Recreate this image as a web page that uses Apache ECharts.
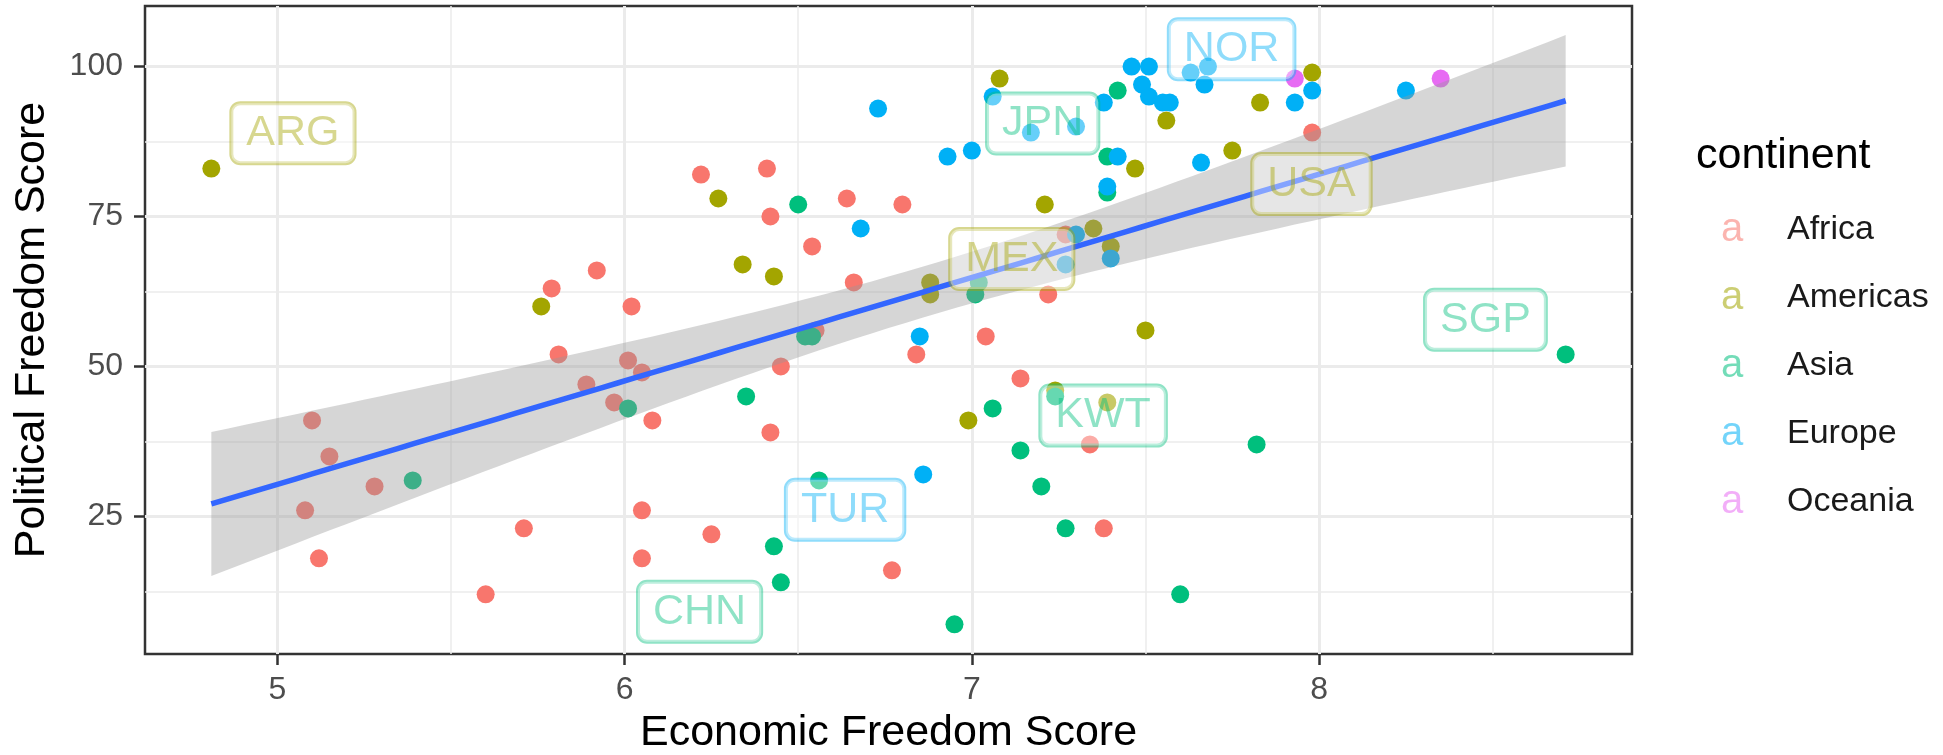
<!DOCTYPE html>
<html>
<head>
<meta charset="utf-8">
<title>Economic vs Political Freedom</title>
<script src="https://cdn.jsdelivr.net/npm/echarts@6/dist/echarts.min.js"></script>
<style>
  html, body { margin: 0; padding: 0; background: #ffffff; }
  #chart { width: 1943px; height: 755px; }
</style>
</head>
<body>
<div id="chart"></div>
<script>
// ---- data -------------------------------------------------------------
const continents = ['Africa', 'Americas', 'Asia', 'Europe', 'Oceania'];
const continentColors = ['#F8766D', '#A3A500', '#00BF7D', '#00B0F6', '#E76BF3'];

// [economic freedom score, political freedom score]
const africa = [
  [6.22, 82], [6.41, 83], [6.64, 78], [6.80, 77], [6.42, 75], [6.54, 70], [6.66, 64],
  [5.92, 66], [5.79, 63], [6.02, 60], [6.84, 52], [7.04, 55], [7.27, 72], [7.22, 62],
  [7.98, 89], [5.10, 41], [5.15, 35], [5.28, 30], [5.08, 26], [5.12, 18], [5.60, 12],
  [5.71, 23], [5.81, 52], [6.01, 51], [6.05, 49], [5.89, 47], [5.97, 44], [6.08, 41],
  [6.42, 39], [6.45, 50], [6.55, 56], [6.05, 26], [6.05, 18], [6.25, 22], [6.77, 16],
  [7.14, 48], [7.34, 37], [7.38, 23]
];
const americas = [
  [4.81, 83], [5.76, 60], [6.27, 78], [6.34, 67], [6.43, 65], [7.08, 98], [7.56, 91],
  [7.83, 94], [7.47, 83], [7.75, 86], [7.21, 77], [7.35, 73], [7.40, 70], [6.88, 64],
  [6.88, 62], [7.50, 56], [7.98, 99], [6.99, 41], [7.24, 46], [7.39, 44]
];
const asia = [
  [6.50, 77], [7.42, 96], [7.39, 85], [7.39, 79], [7.02, 64], [7.01, 62], [5.39, 31],
  [6.01, 43], [6.35, 45], [6.52, 55], [6.54, 55], [6.43, 20], [6.45, 14], [6.56, 31],
  [7.06, 43], [7.14, 36], [7.20, 30], [7.24, 45], [7.27, 23], [6.95, 7], [7.60, 12],
  [7.82, 37], [8.71, 52]
];
const europe = [
  [6.73, 93], [6.68, 73], [6.85, 55], [7.06, 95], [7.17, 89], [7.30, 90], [6.93, 85],
  [7.00, 86], [7.38, 94], [7.46, 100], [7.51, 100], [7.49, 97], [7.51, 95], [7.55, 94],
  [7.57, 94], [7.63, 99], [7.68, 100], [7.67, 97], [7.93, 94], [7.42, 85], [7.66, 84],
  [7.39, 80], [7.30, 72], [7.40, 68], [7.27, 67], [7.98, 96], [8.25, 96], [6.86, 32]
];
const oceania = [[7.93, 98], [8.35, 98]];

// highlighted countries: label anchor positions (data units) and continent
const labelCodes = ['ARG', 'JPN', 'NOR', 'USA', 'MEX', 'SGP', 'KWT', 'TUR', 'CHN'];
const labelX = [5.045, 7.204, 7.748, 7.978, 7.115, 8.479, 7.378, 6.635, 6.216];
const labelY = [88.9, 90.5, 102.9, 80.4, 67.9, 57.8, 41.8, 26.1, 9.1];
const labelContinent = ['Americas', 'Asia', 'Europe', 'Americas', 'Americas', 'Asia', 'Asia', 'Europe', 'Asia'];

// axes
const xRange = [4.619, 8.901];
const yRange = [2.05, 110.1];
const xTicks = [5, 6, 7, 8];
const yTicks = [25, 50, 75, 100];
const xMinorGrid = [5.5, 6.5, 7.5, 8.5];
const yMinorGrid = [12.5, 37.5, 62.5, 87.5];

// ---- linear fit with 95% confidence band -------------------------------
const seriesData = [africa, americas, asia, europe, oceania];
const allPts = [].concat(...seriesData);
const n = allPts.length;
const mx = allPts.reduce((s, p) => s + p[0], 0) / n;
const my = allPts.reduce((s, p) => s + p[1], 0) / n;
let sxx = 0, sxy = 0;
allPts.forEach(p => { sxx += (p[0] - mx) ** 2; sxy += (p[0] - mx) * (p[1] - my); });
const slope = sxy / sxx;
const intercept = my - slope * mx;
let sse = 0;
allPts.forEach(p => { const r = p[1] - (intercept + slope * p[0]); sse += r * r; });
const sigma = Math.sqrt(sse / (n - 2));
const tCrit = 1.982;
const xLo = Math.min(...allPts.map(p => p[0]));
const xHi = Math.max(...allPts.map(p => p[0]));
const fitLine = [];
const band = [];
for (let i = 0; i <= 80; i++) {
  const x = xLo + (xHi - xLo) * i / 80;
  const fit = intercept + slope * x;
  const se = sigma * Math.sqrt(1 / n + (x - mx) ** 2 / sxx);
  fitLine.push([x, fit]);
  band.push([x, fit - tCrit * se, fit + tCrit * se]);
}

// ---- helpers ------------------------------------------------------------
const FONT = '"Liberation Sans", Arial, Helvetica, sans-serif';
function rgba(hex, a) {
  const v = parseInt(hex.slice(1), 16);
  return `rgba(${(v >> 16) & 255},${(v >> 8) & 255},${v & 255},${a})`;
}
const labelAlpha = 0.55;

const gridLines = [];
xTicks.forEach(v => gridLines.push({ xAxis: v, lineStyle: { width: 3 } }));
yTicks.forEach(v => gridLines.push({ yAxis: v, lineStyle: { width: 3 } }));
xMinorGrid.forEach(v => gridLines.push({ xAxis: v, lineStyle: { width: 1.5 } }));
yMinorGrid.forEach(v => gridLines.push({ yAxis: v, lineStyle: { width: 1.5 } }));

const legendRich = { t: { fontSize: 34, lineHeight: 40, color: '#1A1A1A', fontFamily: FONT } };
continents.forEach((c, i) => {
  legendRich['k' + i] = { fontSize: 40, lineHeight: 40, width: 66, color: rgba(continentColors[i], labelAlpha), fontFamily: FONT };
});

// ---- chart --------------------------------------------------------------
const chart = echarts.init(document.getElementById('chart'), null, { renderer: 'canvas' });

const series = [];
// background grid lines
series.push({
  type: 'line', name: 'grid', data: [], silent: true,
  markLine: {
    z: 1, silent: true, symbol: ['none', 'none'], animation: false,
    label: { show: false },
    lineStyle: { color: '#EBEBEB', type: 'solid' },
    emphasis: { disabled: true },
    data: gridLines
  }
});
// points
continents.forEach((c, i) => {
  series.push({
    type: 'scatter', name: c, data: seriesData[i], z: 2,
    symbol: 'circle', symbolSize: 18,
    itemStyle: { color: continentColors[i], opacity: 1 },
    emphasis: { disabled: true }
  });
});
// confidence band
series.push({
  type: 'custom', name: 'band', data: band, z: 3, silent: true,
  encode: { x: 0, y: [1, 2] },
  renderItem(params, api) {
    if (params.dataIndex !== 0) return null;
    const upper = band.map(d => api.coord([d[0], d[2]]));
    const lower = band.map(d => api.coord([d[0], d[1]])).reverse();
    return { type: 'polygon', shape: { points: upper.concat(lower) }, style: { fill: 'rgba(153,153,153,0.4)' } };
  }
});
// fitted line
series.push({
  type: 'line', name: 'fit', data: fitLine, z: 4, silent: true,
  showSymbol: false, symbol: 'none',
  lineStyle: { color: '#3366FF', width: 5.5 },
  emphasis: { disabled: true }
});
// country labels
series.push({
  type: 'scatter', name: 'labels', z: 6, silent: true,
  symbol: 'circle', symbolSize: 1,
  itemStyle: { color: 'rgba(0,0,0,0)' },
  data: labelCodes.map((code, i) => {
    const col = continentColors[continents.indexOf(labelContinent[i])];
    return {
      value: [labelX[i], labelY[i], code],
      label: { color: rgba(col, labelAlpha), borderColor: rgba(col, labelAlpha) }
    };
  }),
  label: {
    show: true, position: 'inside',
    formatter: p => p.value[2],
    fontSize: 43, lineHeight: 44, fontFamily: FONT,
    backgroundColor: 'rgba(255,255,255,0.5)',
    borderWidth: 2, borderRadius: 9,
    padding: [8, 15, 8, 15]
  },
  labelLayout: { hideOverlap: false },
  emphasis: { disabled: true }
});

chart.setOption({
  animation: false,
  backgroundColor: '#ffffff',
  textStyle: { fontFamily: FONT },
  title: {
    text: 'continent', left: 1696, top: 135, padding: 0,
    textStyle: { fontSize: 43, fontWeight: 'normal', color: '#000000', fontFamily: FONT }
  },
  legend: {
    data: continents, orient: 'vertical', left: 1716, top: 210,
    icon: 'none', itemWidth: 0, itemHeight: 0, itemGap: 28,
    selectedMode: false, padding: 0,
    formatter: name => `{k${continents.indexOf(name)}|a}{t|${name}}`,
    textStyle: { rich: legendRich }
  },
  grid: {
    left: 145, right: 311, top: 6, bottom: 101,
    containLabel: false, outerBoundsMode: 'none',
    show: true, backgroundColor: '#ffffff', borderColor: '#333333', borderWidth: 2.5
  },
  xAxis: {
    type: 'value', min: xRange[0], max: xRange[1],
    splitLine: { show: false }, axisLine: { show: false },
    axisTick: { show: true, customValues: xTicks, length: 11, lineStyle: { color: '#333333', width: 2.5 } },
    axisLabel: { customValues: xTicks, margin: 20, fontSize: 32, color: '#4D4D4D', fontFamily: FONT },
    name: 'Economic Freedom Score', nameLocation: 'middle', nameGap: 58,
    nameTextStyle: { fontSize: 43, color: '#000000', fontFamily: FONT }
  },
  yAxis: {
    type: 'value', min: yRange[0], max: yRange[1],
    splitLine: { show: false }, axisLine: { show: false },
    axisTick: { show: true, customValues: yTicks, length: 11, lineStyle: { color: '#333333', width: 2.5 } },
    axisLabel: { customValues: yTicks, margin: 22, fontSize: 32, color: '#4D4D4D', fontFamily: FONT },
    name: 'Political Freedom Score', nameLocation: 'middle', nameGap: 91,
    nameTextStyle: { fontSize: 43, color: '#000000', fontFamily: FONT }
  },
  series
});
</script>
</body>
</html>
